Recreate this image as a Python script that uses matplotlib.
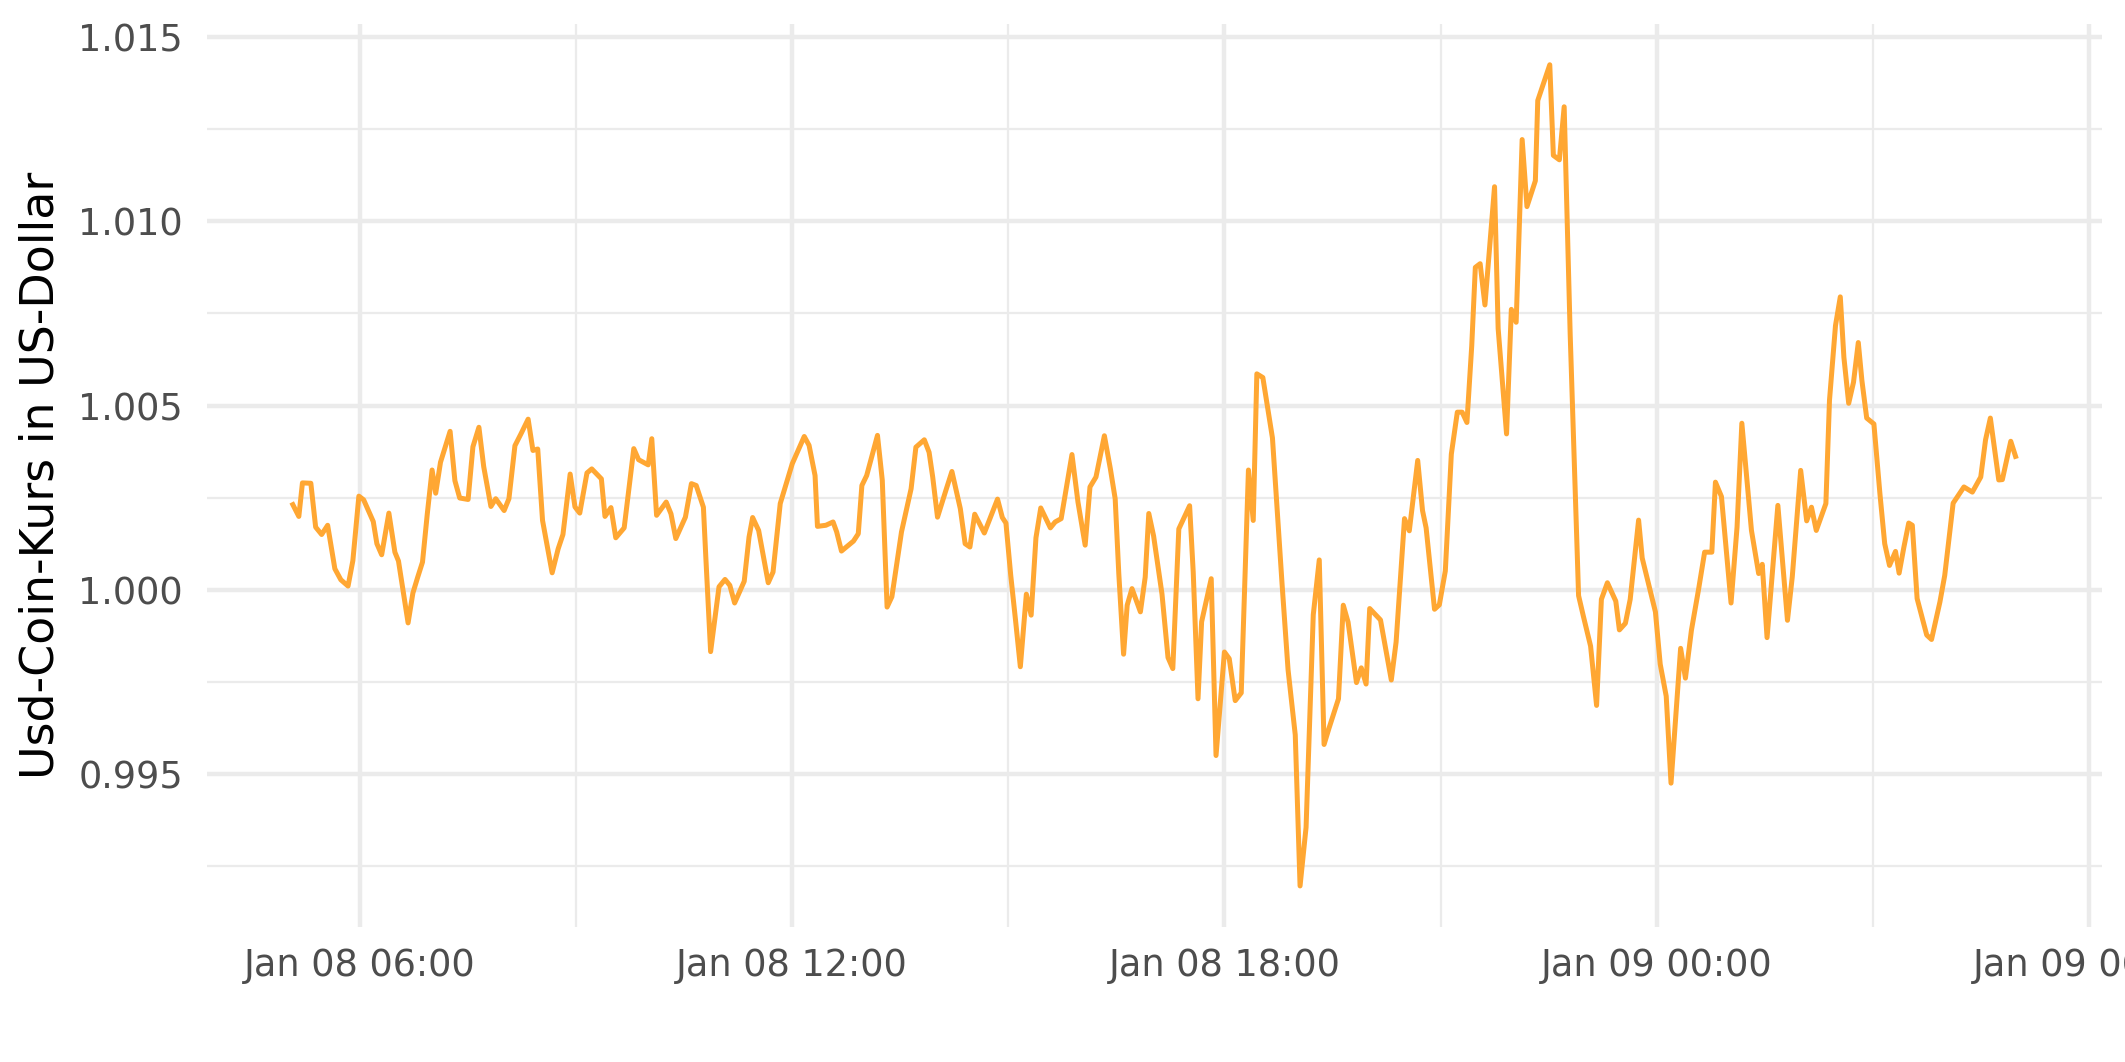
import matplotlib
matplotlib.use("Agg")
import matplotlib.pyplot as plt
import matplotlib.dates as mdates
from matplotlib.ticker import FixedLocator, FormatStrFormatter
import pandas as pd

# minutes after 2024-01-08 00:00
minutes = [
    304, 309, 312, 319, 323, 328, 333, 339, 344, 350, 354, 359, 363, 371, 374, 378,
    384, 389, 392, 400, 404, 408, 412, 416, 420, 423, 427, 435, 439, 443, 450, 454,
    459, 463, 469, 473, 480, 484, 489, 494, 500, 504, 508, 512, 520, 525, 529, 535,
    539, 543, 549, 553, 561, 564, 569, 573, 580, 588, 592, 600, 603, 607, 615, 619,
    623, 631, 636, 640, 646, 648, 652, 659, 664, 668, 672, 680, 684, 687, 692, 700,
    704, 710, 715, 720, 730, 734, 739, 741, 748, 754, 757, 761, 771, 775, 778, 782,
    791, 795, 799, 803, 811, 819, 823, 830, 834, 837, 841, 848, 853, 860, 864, 868,
    872, 880, 891, 895, 898, 902, 906, 910, 915, 919, 923, 927, 935, 939, 944, 953,
    958, 964, 968, 973, 980, 985, 989, 992, 996, 999, 1003, 1010, 1014, 1017, 1021, 1028,
    1033, 1037, 1042, 1051, 1054, 1058, 1061, 1069, 1073, 1080, 1084, 1089, 1094, 1100, 1104, 1107,
    1112, 1120, 1128, 1133, 1139, 1143, 1148, 1154, 1159, 1163, 1167, 1175, 1179, 1183, 1190, 1194,
    1198, 1201, 1210, 1219, 1223, 1230, 1234, 1241, 1245, 1248, 1255, 1259, 1264, 1269, 1274, 1278,
    1282, 1286, 1289, 1293, 1297, 1305, 1308, 1315, 1319, 1323, 1328, 1332, 1339, 1341, 1351, 1354,
    1359, 1363, 1368, 1375, 1379, 1385, 1390, 1394, 1399, 1406, 1409, 1414, 1418, 1425, 1428, 1439,
    1443, 1448, 1452, 1460, 1464, 1469, 1475, 1480, 1486, 1489, 1494, 1502, 1507, 1511, 1519, 1525,
    1528, 1532, 1541, 1549, 1553, 1560, 1565, 1569, 1573, 1581, 1584, 1589, 1593, 1596, 1600, 1604,
    1608, 1611, 1615, 1621, 1626, 1630, 1634, 1639, 1642, 1646, 1650, 1653, 1657, 1665, 1669, 1676,
    1680, 1687, 1696, 1703, 1710, 1714, 1718, 1725, 1728, 1735, 1739,
]

usdc_price = [
    1.00231, 1.00199, 1.00290, 1.00289, 1.00170, 1.00150, 1.00175, 1.00057, 1.00027, 1.00010, 1.00079, 1.00254, 1.00244, 1.00185, 1.00125, 1.00095,
    1.00208, 1.00102, 1.00078, 0.99910, 0.99991, 1.00034, 1.00075, 1.00206, 1.00325, 1.00262, 1.00346, 1.00430, 1.00296, 1.00249, 1.00245, 1.00388,
    1.00441, 1.00334, 1.00226, 1.00247, 1.00215, 1.00247, 1.00391, 1.00423, 1.00463, 1.00378, 1.00382, 1.00188, 1.00046, 1.00111, 1.00150, 1.00314,
    1.00225, 1.00208, 1.00317, 1.00328, 1.00301, 1.00199, 1.00223, 1.00141, 1.00168, 1.00383, 1.00353, 1.00339, 1.00410, 1.00202, 1.00238, 1.00206,
    1.00139, 1.00197, 1.00288, 1.00283, 1.00224, 1.00089, 0.99832, 1.00008, 1.00028, 1.00012, 0.99964, 1.00023, 1.00143, 1.00196, 1.00161, 1.00019,
    1.00048, 1.00234, 1.00288, 1.00342, 1.00416, 1.00392, 1.00310, 1.00172, 1.00175, 1.00184, 1.00157, 1.00105, 1.00132, 1.00152, 1.00283, 1.00310,
    1.00419, 1.00297, 0.99953, 0.99981, 1.00157, 1.00274, 1.00387, 1.00407, 1.00373, 1.00306, 1.00197, 1.00270, 1.00321, 1.00220, 1.00125, 1.00116,
    1.00205, 1.00154, 1.00246, 1.00196, 1.00181, 1.00039, 0.99917, 0.99791, 0.99988, 0.99931, 1.00141, 1.00222, 1.00168, 1.00184, 1.00193, 1.00367,
    1.00238, 1.00121, 1.00279, 1.00306, 1.00418, 1.00328, 1.00247, 1.00044, 0.99825, 0.99958, 1.00003, 0.99940, 1.00034, 1.00207, 1.00146, 0.99988,
    0.99816, 0.99786, 1.00165, 1.00228, 1.00048, 0.99704, 0.99913, 1.00030, 0.99550, 0.99831, 0.99813, 0.99699, 0.99720, 1.00325, 1.00188, 1.00586,
    1.00576, 1.00412, 1.00016, 0.99783, 0.99606, 0.99196, 0.99355, 0.99932, 1.00081, 0.99580, 0.99623, 0.99704, 0.99958, 0.99912, 0.99748, 0.99788,
    0.99744, 0.99949, 0.99918, 0.99755, 0.99858, 1.00193, 1.00160, 1.00351, 1.00215, 1.00168, 0.99947, 0.99959, 1.00051, 1.00368, 1.00482, 1.00482,
    1.00454, 1.00662, 1.00875, 1.00885, 1.00773, 1.01094, 1.00709, 1.00423, 1.00761, 1.00726, 1.01222, 1.01040, 1.01110, 1.01328, 1.01425, 1.01179,
    1.01167, 1.01311, 1.00694, 0.99984, 0.99928, 0.99847, 0.99686, 0.99974, 1.00019, 0.99969, 0.99891, 0.99909, 0.99974, 1.00189, 1.00086, 0.99940,
    0.99798, 0.99711, 0.99475, 0.99841, 0.99760, 0.99890, 1.00002, 1.00102, 1.00102, 1.00292, 1.00253, 0.99964, 1.00170, 1.00452, 1.00161, 1.00044,
    1.00069, 0.99870, 1.00229, 0.99917, 1.00035, 1.00324, 1.00187, 1.00224, 1.00161, 1.00234, 1.00514, 1.00717, 1.00795, 1.00631, 1.00506, 1.00563,
    1.00671, 1.00568, 1.00466, 1.00450, 1.00261, 1.00125, 1.00066, 1.00104, 1.00045, 1.00116, 1.00181, 1.00175, 0.99976, 0.99877, 0.99865, 0.99967,
    1.00039, 1.00235, 1.00279, 1.00265, 1.00306, 1.00407, 1.00466, 1.00298, 1.00299, 1.00403, 1.00362,
]

y_major = [0.995, 1.000, 1.005, 1.010, 1.015]
y_minor = [0.9925, 0.9975, 1.0025, 1.0075, 1.0125]
y_label = "Usd-Coin-Kurs in US-Dollar"

start = pd.Timestamp("2024-01-08 00:00")
times = start + pd.to_timedelta(minutes, unit="m")
xnum = mdates.date2num(times.to_pydatetime())

W, H, DPI = 2125, 1062, 300
fig = plt.figure(figsize=(W / DPI, H / DPI), dpi=DPI)
left, right, top, bottom = 206.7 / W, 2101.7 / W, 1 - 23.7 / H, 1 - 927.0 / H
ax = fig.add_axes([left, bottom, right - left, top - bottom])

ax.plot(xnum, usdc_price, color="#FFA733", lw=1.2, solid_joinstyle="round", zorder=3)

# ggplot-like 5% expansion
xr = xnum.max() - xnum.min()
ax.set_xlim(xnum.min() - 0.05 * xr, xnum.max() + 0.05 * xr)
yr = max(usdc_price) - min(usdc_price)
ax.set_ylim(min(usdc_price) - 0.05 * yr, max(usdc_price) + 0.05 * yr)

ax.xaxis.set_major_locator(mdates.HourLocator(byhour=[0, 6, 12, 18]))
ax.xaxis.set_minor_locator(mdates.HourLocator(byhour=[3, 9, 15, 21]))
ax.xaxis.set_major_formatter(mdates.DateFormatter("%b %d %H:%M"))
ax.yaxis.set_major_locator(FixedLocator(y_major))
ax.yaxis.set_minor_locator(FixedLocator(y_minor))
ax.yaxis.set_major_formatter(FormatStrFormatter("%.3f"))

grid_col = "#EBEBEB"
ax.grid(which="major", color=grid_col, lw=1.07)
ax.grid(which="minor", color=grid_col, lw=0.53)
ax.set_axisbelow(True)
for s in ax.spines.values():
    s.set_visible(False)

ax.tick_params(axis="both", which="both", length=0, labelcolor="#4D4D4D", labelsize=8.8)
ax.tick_params(axis="x", which="major", pad=4.8)
ax.tick_params(axis="y", which="major", pad=5.7)
for lab in ax.get_xticklabels() + ax.get_yticklabels():
    lab.set_family("DejaVu Sans")

fig.text(40.8 / W, 1 - 475 / H, y_label, rotation=90, ha="center", va="center",
         fontsize=11, color="black", family="DejaVu Sans")

fig.savefig("out.png", dpi=DPI)
